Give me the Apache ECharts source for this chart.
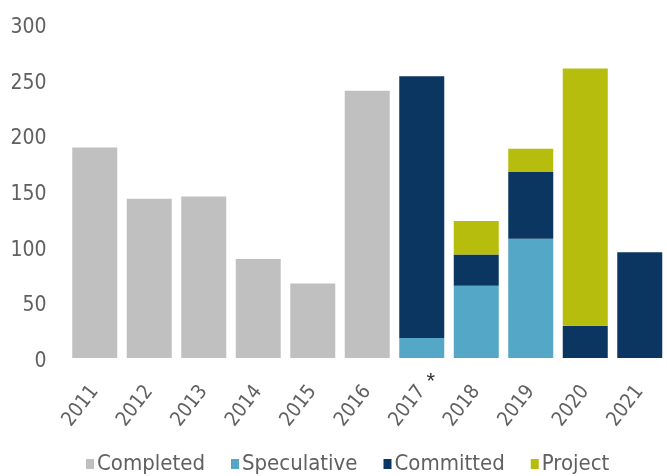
<!DOCTYPE html>
<html>
<head>
<meta charset="utf-8">
<script src="https://cdn.jsdelivr.net/npm/echarts@6/dist/echarts.min.js"></script>
<style>
  html, body { margin: 0; padding: 0; background: #ffffff; }
  #chart { width: 667px; height: 476px; }
</style>
</head>
<body>
<div id="chart"></div>
<script>
// Office space delivered by year (completed) and pipeline split by type
const years = ['2011', '2012', '2013', '2014', '2015', '2016', '2017', '2018', '2019', '2020', '2021'];
const completed   = [189, 143, 145, 89, 67, 240, null, null, null, null, null];
const speculative = [null, null, null, null, null, null, 18, 65, 107, null, null];
const committed   = [null, null, null, null, null, null, 235, 28, 60, 29, 95];
const project     = [null, null, null, null, null, null, null, 30, 21, 231, null];
const yTicks = { min: 0, max: 300, step: 50 };
const footnoteYear = '2017';

const FONT = '"DejaVu Sans Condensed", "Liberation Sans", Arial, sans-serif';
const TEXT = '#606060';

const chart = echarts.init(document.getElementById('chart'), null, { renderer: 'canvas' });

function bar(name, data, color) {
  return {
    name: name,
    type: 'bar',
    stack: 'total',
    data: data,
    barWidth: 45,
    itemStyle: { color: color },
    emphasis: { disabled: true },
    animation: false
  };
}

const series = [
  bar('Completed', completed, '#c0c0c0'),
  bar('Speculative', speculative, '#55a7c7'),
  bar('Committed', committed, '#0b3661'),
  bar('Project', project, '#b6bd0c')
];

// footnote marker next to the 2017 axis label
series[1].markPoint = {
  symbol: 'circle',
  symbolSize: 0,
  silent: true,
  data: [{ coord: [footnoteYear, 0] }],
  label: {
    show: true,
    formatter: '*',
    color: '#333333',
    fontFamily: '"Liberation Sans", Arial, sans-serif',
    fontSize: 22,
    offset: [9, 24]
  }
};

chart.setOption({
  backgroundColor: '#ffffff',
  animation: false,
  grid: { left: 67.5, right: -5.5, top: 24, bottom: 118, containLabel: false },
  legend: {
    left: 81,
    top: 448,
    icon: 'rect',
    itemWidth: 8,
    itemHeight: 10,
    itemGap: 26,
    textStyle: { color: TEXT, fontFamily: FONT, fontSize: 22, padding: [0, 0, 0, -2] },
    data: ['Completed', 'Speculative', 'Committed', 'Project']
  },
  xAxis: {
    type: 'category',
    data: years,
    axisLine: { show: false },
    axisTick: { show: false },
    axisLabel: {
      color: TEXT,
      fontFamily: FONT,
      fontSize: 20,
      rotate: 52,
      margin: 30,
      interval: 0
    }
  },
  yAxis: {
    type: 'value',
    min: yTicks.min,
    max: yTicks.max,
    interval: yTicks.step,
    axisLine: { show: false },
    axisTick: { show: false },
    splitLine: { show: false },
    axisLabel: {
      margin: 21,
      formatter: function (v) { return '{n|' + v + '}'; },
      rich: {
        n: {
          color: TEXT,
          fontFamily: FONT,
          fontSize: 21,
          padding: [7, 0, 0, 0]
        }
      }
    }
  },
  series: series
});
</script>
</body>
</html>
